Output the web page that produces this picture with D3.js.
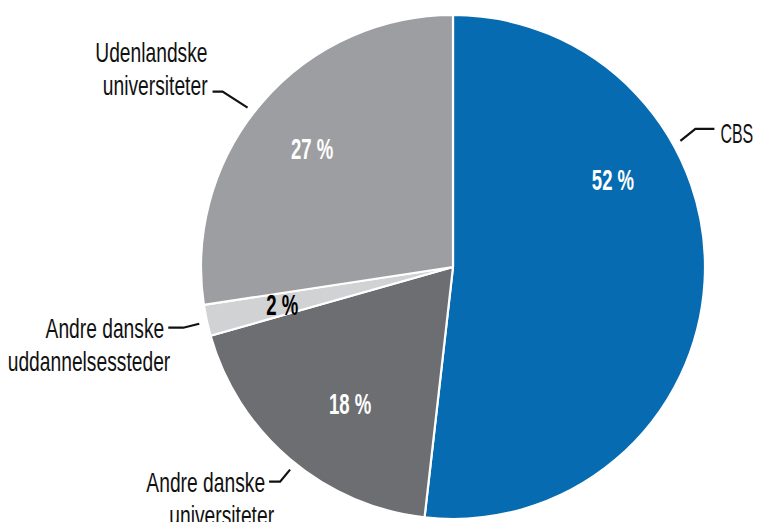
<!DOCTYPE html>
<html>
<head>
<meta charset="utf-8">
<script src="https://cdn.jsdelivr.net/npm/d3@7"></script>
<style>
  body { margin: 0; background: #fff; }
  svg { display: block; }
  text { font-family: "Liberation Sans", Arial, sans-serif; }
</style>
</head>
<body>
<svg id="svg" width="757" height="522"></svg>
<script>
// slices, clockwise from 12 o'clock
var categories = ['CBS', 'Andre danske universiteter', 'Andre danske uddannelsessteder', 'Udenlandske universiteter'];
var values = [51.8, 18.8, 2.0, 27.4];
var pctLabels = ['52 %', '18 %', '2 %', '27 %'];
var colors = ['#066bb0', '#6d6e71', '#d1d2d4', '#9d9ea1'];
var pctColors = ['#fff', '#fff', '#000', '#fff'];

// label text lines (Danish), with where the leader touches the pie (degrees clockwise from top)
var nameLines = [['CBS'], ['Andre danske', 'universiteter'], ['Andre danske', 'uddannelsessteder'], ['Udenlandske', 'universiteter']];
var leaderAngle = [61, 218.8, 257.4, 307.8];
var pctAngle = [61.5, 217, 257.5, 310];
var pctRadius = [182, 171, 175, 184];

var cx = 453, cy = 267, R = 252;
var svg = d3.select('#svg');
var g = svg.append('g').attr('transform', 'translate(' + cx + ',' + cy + ')');

var pie = d3.pie().sort(null).value(d => d);
var arcs = pie(values);
var arc = d3.arc().innerRadius(0).outerRadius(R);

g.selectAll('path.slice')
    .data(arcs)
    .enter()
    .append('path')
    .attr('class', 'slice')
    .attr('d', arc)
    .attr('fill', (d, i) => colors[i])
    .attr('stroke', '#fff')
    .attr('stroke-width', 2.2)
    .attr('stroke-linejoin', 'round');

// percentage labels
g.selectAll('text.pct')
    .data(arcs)
    .enter()
    .append('text')
    .attr('class', 'pct')
    .attr('transform', (d, i) => {
        var p = d3.pointRadial(pctAngle[i] * Math.PI / 180, pctRadius[i]);
        return 'translate(' + p[0] + ',' + (p[1] + 10) + ') scale(0.64,1)';
    })
    .attr('text-anchor', 'middle')
    .attr('font-size', 29)
    .attr('font-weight', 'bold')
    .attr('fill', (d, i) => pctColors[i])
    .text((d, i) => pctLabels[i]);

// leader lines: tip near pie edge, elbow, end near text
var side = [1, -1, -1, -1];
var elbowDx = [15, -10, -16, -25];
var elbowDy = [-12, 12, 4, -16];
var tailLen = [19, 11, 15, 10];
var leaders = leaderAngle.map((a, i) => {
    var tip = d3.pointRadial(a * Math.PI / 180, R + 8);
    var elbow = [tip[0] + elbowDx[i], tip[1] + elbowDy[i]];
    var end = [elbow[0] + side[i] * tailLen[i], elbow[1]];
    return [tip, elbow, end];
});
g.selectAll('path.leader')
    .data(leaders)
    .enter()
    .append('path')
    .attr('class', 'leader')
    .attr('d', d3.line())
    .attr('fill', 'none')
    .attr('stroke', '#111')
    .attr('stroke-width', 2.2);

// category names next to the leader ends
var lineGap = 33;
var firstLineDy = [14, 10, 10, -30];
var lineAnchor = [
    ['start'],
    ['end', 'end'],
    ['end', 'end'],
    ['end', 'end']
];
var lineShift = [[6], [-4, 5], [-4, 2], [-5, -5]];
var labelScale = [0.58, 0.7, 0.7, 0.7];
leaders.forEach((pts, i) => {
    var end = pts[2];
    nameLines[i].forEach((s, j) => {
        g.append('text')
            .attr('transform', 'translate(' + (end[0] + lineShift[i][j]) + ',' + (end[1] + firstLineDy[i] + j * lineGap) + ') scale(' + labelScale[i] + ',1)')
            .attr('text-anchor', lineAnchor[i][j])
            .attr('font-size', 27.5)
            .attr('fill', '#111')
            .text(s);
    });
});
</script>
</body>
</html>
